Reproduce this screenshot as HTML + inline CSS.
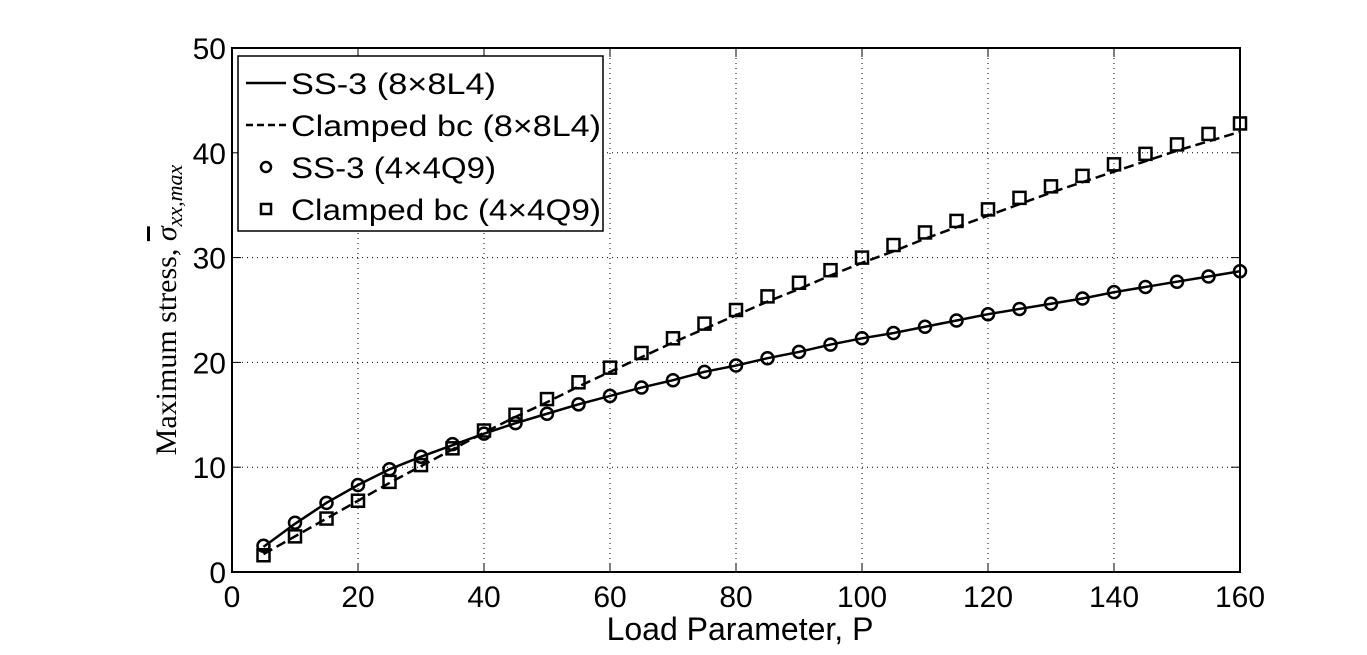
<!DOCTYPE html>
<html><head><meta charset="utf-8"><style>
body{margin:0;background:#fff}
svg text{font-family:"Liberation Sans",sans-serif;fill:#000}
</style></head><body>
<svg id="c" width="1367" height="650" xmlns="http://www.w3.org/2000/svg"></svg>
<script>
const P=[5,10,15,20,25,30,35,40,45,50,55,60,65,70,75,80,85,90,95,100,105,110,115,120,125,130,135,140,145,150,155,160];
const ssL4=[2.4,4.6,6.6,8.3,9.8,11.0,12.1,13.2,14.2,15.1,16.0,16.8,17.6,18.3,19.1,19.7,20.4,21.0,21.7,22.3,22.8,23.4,24.0,24.6,25.1,25.6,26.1,26.7,27.2,27.7,28.2,28.7];
const clL4=[1.7,3.4,5.1,6.8,8.5,10.1,11.7,13.3,14.8,16.2,17.7,19.1,20.5,21.9,23.2,24.5,25.8,27.0,28.3,29.5,30.6,31.8,32.9,34.0,35.1,36.2,37.2,38.2,39.2,40.2,41.1,42.0];
const ssQ9=[2.5,4.7,6.6,8.3,9.8,11.0,12.2,13.2,14.2,15.1,16.0,16.8,17.6,18.3,19.1,19.7,20.4,21.0,21.7,22.3,22.8,23.4,24.0,24.6,25.1,25.6,26.1,26.7,27.2,27.7,28.2,28.7];
const clQ9=[1.6,3.4,5.1,6.8,8.6,10.2,11.8,13.5,15.0,16.5,18.1,19.5,20.9,22.3,23.7,25.0,26.3,27.6,28.8,30.0,31.2,32.4,33.5,34.6,35.7,36.8,37.8,38.9,39.9,40.8,41.8,42.8];
const xTicks=[0,20,40,60,80,100,120,140,160];
const yTicks=[0,10,20,30,40,50];
const X0=232,X1=1240,Y0=572,Y1=48;
const sx=v=>X0+(v-0)/160*(X1-X0), sy=v=>Y0-(v/50)*(Y0-Y1);
const svg=document.getElementById('c');const NS='http://www.w3.org/2000/svg';
function mk(t,a,p){const e=document.createElementNS(NS,t);for(const k in a)e.setAttribute(k,a[k]);(p||svg).appendChild(e);return e;}
mk('rect',{x:0,y:0,width:1367,height:650,fill:'#fff'});
const grid=mk('g',{});


xTicks.forEach(v=>{if(v>0&&v<160)mk('line',{x1:sx(v),x2:sx(v),y1:Y1,y2:Y0,stroke:'#000','stroke-width':1,'stroke-dasharray':'1,4'},grid);});
yTicks.forEach(v=>{if(v>0&&v<50)mk('line',{x1:X0,x2:X1,y1:sy(v),y2:sy(v),stroke:'#000','stroke-width':1,'stroke-dasharray':'1,4'},grid);});
const ax=mk('rect',{x:X0,y:Y1,width:X1-X0,height:Y0-Y1,fill:'none',stroke:'#000','stroke-width':2});


xTicks.forEach(v=>{mk('line',{x1:sx(v),x2:sx(v),y1:Y0,y2:Y0-9,stroke:'#000'});mk('line',{x1:sx(v),x2:sx(v),y1:Y1,y2:Y1+9,stroke:'#000'});
const t=mk('text',{x:sx(v),y:Y0+35,'font-size':30,'text-anchor':'middle'});t.textContent=v;

});
yTicks.forEach(v=>{mk('line',{x1:X0,x2:X0+9,y1:sy(v),y2:sy(v),stroke:'#000'});mk('line',{x1:X1,x2:X1-9,y1:sy(v),y2:sy(v),stroke:'#000'});
const t=mk('text',{x:X0-6,y:sy(v)+11,'font-size':30,'text-anchor':'end'});t.textContent=v;

});
function line(arr,dash,name){const d=P.map((p,i)=>(i?'L':'M')+sx(p)+','+sy(arr[i])).join('');
const e=mk('path',{d:d,fill:'none',stroke:'#000','stroke-width':2.5,'stroke-dasharray':dash||'none'});

}
line(ssL4,null,'ss3-l4-line');line(clL4,'10,5','clamped-l4-line');
const gc=mk('g',{});


P.forEach((p,i)=>mk('circle',{cx:sx(p),cy:sy(ssQ9[i]),r:6,fill:'none',stroke:'#000','stroke-width':2.5},gc));
const gs=mk('g',{});


P.forEach((p,i)=>mk('rect',{x:sx(p)-6,y:sy(clQ9[i])-6,width:12,height:12,fill:'none',stroke:'#000','stroke-width':2.5},gs));
const xl=mk('text',{x:740,y:640,'font-size':32,'text-anchor':'middle'});xl.textContent='Load Parameter, P';


const yl=mk('text',{x:0,y:0,'font-size':30,'text-anchor':'middle',transform:'translate(176,310) rotate(-90)',style:'font-family:"Liberation Serif",serif'});
yl.innerHTML='Maximum stress, <tspan text-decoration="overline" font-style="italic">σ</tspan><tspan font-style="italic" font-size="22" dy="6">xx,max</tspan>';


const lg=mk('g',{});


mk('rect',{x:238,y:56,width:365,height:175,fill:'#fff',stroke:'#000','stroke-width':1.5},lg);
const items=[['SS-3 (8×8L4)','solid'],['Clamped bc (8×8L4)','dash'],['SS-3 (4×4Q9)','circle'],['Clamped bc (4×4Q9)','square']];
items.forEach((it,i)=>{const y=83+i*42;
if(it[1]==='solid')mk('line',{x1:246,x2:286,y1:y,y2:y,stroke:'#000','stroke-width':2.5},lg);
if(it[1]==='dash')mk('line',{x1:246,x2:286,y1:y,y2:y,stroke:'#000','stroke-width':2.5,'stroke-dasharray':'7,4'},lg);
if(it[1]==='circle')mk('circle',{cx:266,cy:y,r:5,fill:'none',stroke:'#000','stroke-width':2.5},lg);
if(it[1]==='square')mk('rect',{x:261,y:y-5,width:10,height:10,fill:'none',stroke:'#000','stroke-width':2.5},lg);
const t=mk('text',{x:291,y:y+11,'font-size':30,'textLength':it[0].length>14?310:205,'lengthAdjust':'spacingAndGlyphs'},lg);t.textContent=it[0];

});
</script>
</body></html>
